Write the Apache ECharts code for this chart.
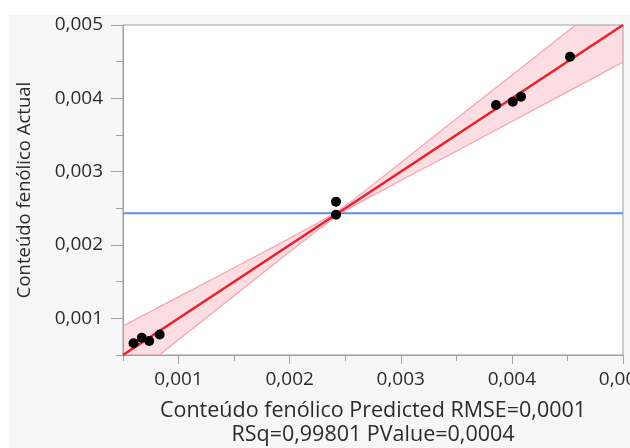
<!DOCTYPE html>
<html>
<head>
<meta charset="utf-8">
<script src="https://cdn.jsdelivr.net/npm/echarts@6/dist/echarts.min.js"></script>
<style>
  html, body { margin: 0; padding: 0; background: #ffffff; }
  #chart { width: 630px; height: 448px; }
</style>
</head>
<body>
<div id="chart"></div>
<script>
// Actual by Predicted: phenolic content
const predicted = [0.000595, 0.000669, 0.000736, 0.00083, 0.002417, 0.002417, 0.003857, 0.004008, 0.004082, 0.004523];
const actual    = [0.00066, 0.000736, 0.000691, 0.00078, 0.00259, 0.002413, 0.00391, 0.003954, 0.004023, 0.004568];

// fitted line (actual vs predicted) and mean of actual
const fitX = [0.0005, 0.005];
const fitY = [0.0005, 0.005];
const meanActual = 0.002432;

// confidence band of the fit
const bandX     = [0.0005, 0.001, 0.0015, 0.002, 0.00225, 0.00243, 0.0026, 0.003, 0.0035, 0.004, 0.0045, 0.005];
const bandUpper = [0.000896, 0.001293, 0.001691, 0.002093, 0.002298, 0.00246, 0.002646, 0.003121, 0.003721, 0.004315, 0.004912, 0.005505];
const bandLower = [0.000104, 0.000707, 0.001309, 0.001907, 0.002202, 0.0024, 0.002554, 0.002879, 0.003279, 0.003685, 0.004088, 0.004495];

// axis ticks
const axisMin = 0.0005;
const axisMax = 0.005;
const majorTicks = [0.001, 0.002, 0.003, 0.004, 0.005];

const xTitle = 'Conteúdo fenólico Predicted RMSE=0,0001\nRSq=0,99801 PValue=0,0004';
const yTitle = 'Conteúdo fenólico Actual';

const FONT = '"Open Sans", "Noto Sans", sans-serif';
const AXIS_GRAY = '#a0a0a0';
const TEXT = '#2b2b2b';

const fmt = v => v.toFixed(3).replace('.', ',');

const chart = echarts.init(document.getElementById('chart'), null, { renderer: 'canvas' });

function baseAxis(extra) {
  return Object.assign({
    type: 'value',
    min: axisMin,
    max: axisMax,
    interval: 0.0005,
    splitLine: { show: false },
  }, extra);
}

const option = {
  animation: false,
  textStyle: { fontFamily: FONT },
  graphic: [{
    type: 'rect',
    z: -10,
    shape: { x: 9, y: 15, width: 621, height: 433 },
    style: { fill: '#f7f7f7' },
    silent: true
  }],
  grid: {
    left: 123, top: 25, width: 500, height: 330,
    containLabel: false,
    outerBoundsMode: 'none',
    show: true,
    backgroundColor: '#ffffff',
    borderColor: AXIS_GRAY,
    borderWidth: 1
  },
  xAxis: [
    baseAxis({
      position: 'bottom',
      axisLine: { show: true, lineStyle: { color: AXIS_GRAY, width: 1 } },
      axisTick: { show: true, length: 6, lineStyle: { color: AXIS_GRAY } },
      axisLabel: {
        customValues: majorTicks,
        formatter: fmt,
        color: TEXT, fontSize: 19, fontFamily: FONT, margin: 15
      },
      name: xTitle,
      nameLocation: 'middle',
      nameGap: 44,
      nameTextStyle: { color: TEXT, fontSize: 21.5, fontFamily: FONT, lineHeight: 24 }
    }),
    baseAxis({
      position: 'bottom',
      axisLine: { show: false },
      axisTick: { show: true, length: 9, customValues: majorTicks, lineStyle: { color: AXIS_GRAY } },
      axisLabel: { show: false }
    })
  ],
  yAxis: [
    baseAxis({
      position: 'left',
      axisLine: { show: true, lineStyle: { color: AXIS_GRAY, width: 1 } },
      axisTick: { show: true, length: 7, lineStyle: { color: AXIS_GRAY } },
      axisLabel: {
        customValues: majorTicks,
        formatter: fmt,
        color: TEXT, fontSize: 19, fontFamily: FONT, margin: 20
      },
      name: yTitle,
      nameLocation: 'middle',
      nameGap: 89,
      nameTextStyle: { color: TEXT, fontSize: 18.5, fontFamily: FONT }
    }),
    baseAxis({
      position: 'left',
      axisLine: { show: false },
      axisTick: { show: true, length: 12, customValues: majorTicks, lineStyle: { color: AXIS_GRAY } },
      axisLabel: { show: false }
    })
  ],
  series: [
    {
      // shaded confidence region with its border curves
      type: 'custom',
      clip: true,
      silent: true,
      z: 1,
      data: [0],
      renderItem: function (params, api) {
        const up = bandX.map((x, i) => api.coord([x, bandUpper[i]]));
        const lo = bandX.map((x, i) => api.coord([x, bandLower[i]]));
        const poly = up.concat(lo.slice().reverse());
        return {
          type: 'group',
          children: [
            { type: 'polygon', shape: { points: poly }, style: { fill: 'rgba(245, 120, 135, 0.25)', stroke: null } },
            { type: 'polyline', shape: { points: up }, style: { fill: null, stroke: '#f6a3ad', lineWidth: 1.2 } },
            { type: 'polyline', shape: { points: lo }, style: { fill: null, stroke: '#f6a3ad', lineWidth: 1.2 } }
          ]
        };
      }
    },
    {
      // mean of actual values
      type: 'line',
      data: [[axisMin, meanActual], [axisMax, meanActual]],
      showSymbol: false,
      silent: true,
      z: 2,
      lineStyle: { color: '#5b8ff0', width: 2 }
    },
    {
      // fitted line
      type: 'line',
      data: fitX.map((x, i) => [x, fitY[i]]),
      showSymbol: false,
      silent: true,
      z: 3,
      lineStyle: { color: '#e8222f', width: 2.6 }
    },
    {
      type: 'scatter',
      data: predicted.map((x, i) => [x, actual[i]]),
      symbol: 'circle',
      symbolSize: 10,
      z: 4,
      itemStyle: { color: '#000000', opacity: 1 }
    }
  ]
};

chart.setOption(option);
</script>
</body>
</html>
